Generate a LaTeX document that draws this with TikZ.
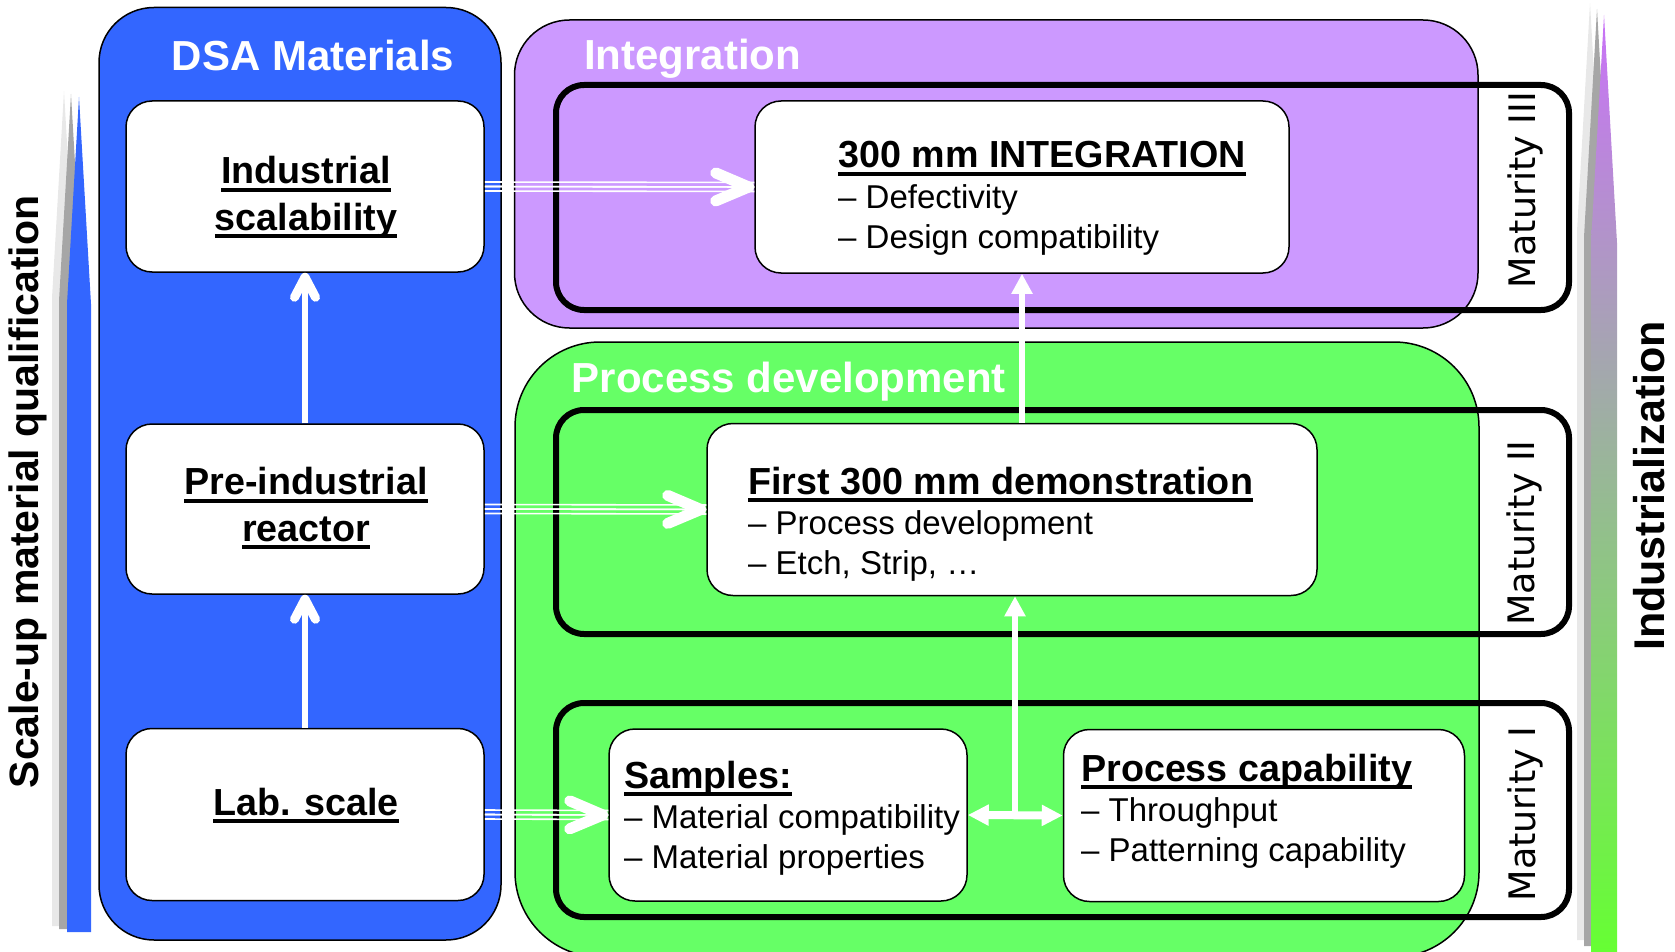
\documentclass[tikz,border=0pt]{standalone}
\usepackage{fontspec}
\setmainfont{Liberation Sans}
\newfontfamily\matfont{DejaVu Sans}
\usetikzlibrary{arrows.meta,positioning}

\definecolor{dsablue}{HTML}{3366FF}
\definecolor{integpurple}{HTML}{CC99FF}
\definecolor{procgreen}{HTML}{66FF66}
\definecolor{arrowpurple}{HTML}{C972F8}
\definecolor{arrowmid}{HTML}{A8B9CB}
\definecolor{arrowgreen}{HTML}{66FF33}
\definecolor{shadowmid}{HTML}{A6A6A6}
\definecolor{shadowlight}{HTML}{E8E8E8}

% thick underline for the card headings
\newcommand{\ulhead}[1]{\setbox0=\hbox{#1}\rlap{\vrule width\wd0 height -4pt depth 8pt}\box0}

\tikzset{
  chev/.tip={Straight Barb[length=33pt,width=28pt,line width=11pt,round]},
  smallchev/.tip={Straight Barb[length=20pt,width=21pt,line width=9pt,round]},
  tri/.tip={Triangle[length=20pt,width=20pt]},
  panel/.style={draw=black, line width=1.5pt, rounded corners=55pt},
  matframe/.style={draw=black, line width=6pt, rounded corners=28pt},
  card/.style={draw=black, line width=1.5pt, fill=white, rounded corners=26pt, inner sep=0pt},
  paneltitle/.style={font=\bfseries\fontsize{42}{44}\selectfont, text=white, inner sep=0pt},
  head/.style={font=\bfseries\fontsize{37.7}{46.5}\selectfont, inner sep=0pt},
  item/.style={font=\fontsize{33}{39.5}\selectfont, align=left, anchor=base west, inner sep=0pt},
  matlbl/.style={font=\matfont\fontsize{36.5}{36.5}\selectfont, rotate=90, inner sep=0pt},
  sidelbl/.style={rotate=90, inner sep=0pt},
  tripleline/.style={draw=white, line width=1.6pt,
    postaction={draw, transform canvas={yshift=4.5pt}},
    postaction={draw, transform canvas={yshift=-4.5pt}},
    postaction={draw, -{chev}}},
  uplink/.style={draw=white, line width=6pt, -{smallchev}},
  whitelink/.style={draw=white, line width=6pt, -{tri}},
  dbllink/.style={draw=white, line width=8pt, {Triangle[length=21pt,width=20pt]}-{Triangle[length=21pt,width=20pt]}}
}

\begin{document}
\begin{tikzpicture}[x=1pt,y=-1pt]
\path[use as bounding box, clip] (0,0) rectangle (1675,952);

% side arrows with their shadows
\fill[shadowlight, shift={(-15,-6)}] (67,932) -- (67,304) -- (79,97) -- (91,304) -- (91,932) -- cycle;
\fill[shadowmid, shift={(-8,-3)}] (67,932) -- (67,304) -- (79,97) -- (91,304) -- (91,932) -- cycle;
\fill[dsablue] (67,932) -- (67,304) -- (79,97) -- (91,304) -- (91,932) -- cycle;
\fill[shadowlight, shift={(-14,-12)}] (1591,952) -- (1591,243) -- (1604,15) -- (1617,243) -- (1617,952) -- cycle;
\fill[shadowmid, shift={(-7,-6)}] (1591,952) -- (1591,243) -- (1604,15) -- (1617,243) -- (1617,952) -- cycle;
\shade[top color=arrowpurple, middle color=arrowmid, bottom color=arrowgreen] (1591,952) -- (1591,243) -- (1604,15) -- (1617,243) -- (1617,952) -- cycle;

% panels
\draw[panel, fill=dsablue] (99,7.5) rectangle (501,940);
\draw[panel, fill=integpurple] (514.5,20) rectangle (1478,328);
\draw[panel, fill=procgreen, rounded corners=85pt] (515,342) rectangle (1479,957);

% maturity frames
\draw[matframe] (556,85) rectangle (1569,310);
\draw[matframe] (556,410) rectangle (1569,634);
\draw[matframe] (556,703) rectangle (1569,917);

% cards
\node (indus) [card, minimum width=358pt, minimum height=171pt] at (305,186.5) {};
\node (preind) [card, minimum width=358pt, minimum height=170pt] at (305,509) {};
\node (lab) [card, minimum width=358pt, minimum height=172pt] at (305,814.5) {};
\node (integ) [card, minimum width=534pt, minimum height=172pt] at (1022,187) {};
\node (demo) [card, minimum width=610pt, minimum height=172pt] at (1012,509.5) {};
\node (samples) [card, minimum width=358pt, minimum height=172pt] at (788,815) {};
\node (capab) [card, minimum width=401pt, minimum height=172pt] at (1264,815.5) {};

% panel titles
\node (dsatitle) [paneltitle, anchor=base] at (313,71) {DSA Materials};
\node (integtitle) [paneltitle, anchor=base west] at (584,70) {Integration};
\node (proctitle) [paneltitle, anchor=base west] at (571.5,392) {Process development};

% card texts (base = last line)
\node (industxt) [head, align=center, anchor=base] at (306,230) {\ulhead{Industrial}\\\ulhead{scalability}};
\node (preindtxt) [head, align=center, anchor=base] at (306,541) {\ulhead{Pre-industrial}\\\ulhead{reactor}};
\node (labtxt) [head, anchor=base] at (306,815) {\ulhead{Lab. scale}};
\node (integhead) [head, anchor=base west] at (838,168) {\ulhead{300 mm INTEGRATION}};
\node (integitems) [item] at (838,248) {– Defectivity\\– Design compatibility};
\node (demohead) [head, anchor=base west] at (748,494) {\ulhead{First 300 mm demonstration}};
\node (demoitems) [item] at (748,574) {– Process development\\– Etch, Strip, …};
\node (samphead) [head, anchor=base west] at (624,788) {\ulhead{Samples:}};
\node (sampitems) [item] at (624,868) {– Material compatibility\\– Material properties};
\node (capabhead) [head, anchor=base west] at (1081,781) {\ulhead{Process capability}};
\node (capabitems) [item] at (1081,861) {– Throughput\\– Patterning capability};

% maturity labels and side labels
\node (matIII) [matlbl] at (1525,190) {Maturity III};
\node (matII) [matlbl] at (1524,533) {Maturity II};
\node (matI) [matlbl] at (1525,814) {Maturity I};
\node (scaleup) [sidelbl, font=\bfseries\fontsize{41}{41}\selectfont] at (28,492) {Scale-up material qualification};
\node (indlz) [sidelbl, font=\bfseries\fontsize{43}{43}\selectfont] at (1649,486) {Industrialization};

% connectors
\draw[tripleline] (indus.east) -- (integ.west);
\draw[tripleline] (preind.east) -- (demo.west);
\draw[tripleline] (lab.east) -- (samples.west);
\draw[uplink] (preind.north) -- (indus.south);
\draw[uplink] (lab.north) -- (preind.south);
\draw[dbllink] (samples.east) -- (capab.west);
\coordinate (split) at (1015,815);
\draw[whitelink] (split) -- (split |- demo.south);
\draw[whitelink] (integ.south |- demo.north) -- (integ.south);
\end{tikzpicture}
\end{document}
